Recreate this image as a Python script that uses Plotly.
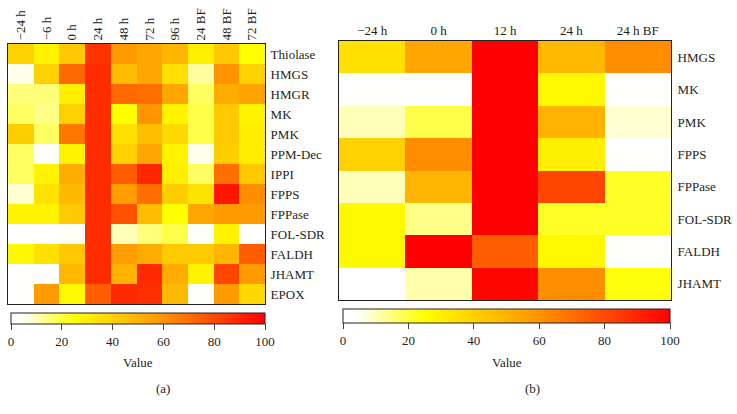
import plotly.graph_objects as go

# ---------------- data ----------------
times_a = ["−24 h", "−6 h", "0 h", "24 h", "48 h", "72 h", "96 h", "24 BF", "48 BF", "72 BF"]
genes_a = ["Thiolase", "HMGS", "HMGR", "MK", "PMK", "PPM-Dec", "IPPI", "FPPS",
           "FPPase", "FOL-SDR", "FALDH", "JHAMT", "EPOX"]
values_a = [
    [40, 29, 43, 86, 58, 54, 49, 30, 43, 25],
    [6, 40, 72, 88, 47, 54, 35, 12, 60, 40],
    [15, 15, 30, 88, 72, 70, 54, 17, 52, 55],
    [17, 14, 40, 88, 25, 60, 29, 19, 43, 29],
    [41, 17, 68, 88, 35, 46, 37, 19, 43, 31],
    [17, 3, 29, 88, 40, 54, 29, 6, 41, 31],
    [17, 29, 52, 88, 75, 90, 30, 17, 70, 43],
    [8, 34, 48, 88, 57, 70, 41, 34, 94, 62],
    [29, 29, 43, 88, 78, 47, 25, 54, 58, 58],
    [1, 1, 5, 88, 10, 15, 19, 3, 29, 1],
    [27, 35, 43, 88, 57, 52, 42, 42, 49, 75],
    [1, 1.5, 48, 88, 50, 89, 52, 29, 81, 58],
    [1, 58, 27, 75, 89, 87, 48, 3, 58, 37],
]

times_b = ["−24 h", "0 h", "12 h", "24 h", "24 h BF"]
genes_b = ["HMGS", "MK", "PMK", "FPPS", "FPPase", "FOL-SDR", "FALDH", "JHAMT"]
values_b = [
    [35, 54, 100, 48, 62],
    [1, 1, 100, 27, 1],
    [10, 19, 100, 50, 8],
    [40, 62, 100, 30, 1],
    [10, 49, 100, 81, 22],
    [27, 14, 100, 22, 22],
    [27, 100, 75, 27, 1],
    [0, 11, 98, 62, 24],
]

cbar_ticks = [0, 20, 40, 60, 80, 100]

# ---------------- styling ----------------
W, H = 737, 414
FONT = "Liberation Serif"
TXT = "#231F20"
heat = [[0.0, "#FFFFFF"], [0.05, "#FFFFF6"], [0.25, "#FFFF00"],
        [0.6, "#FF9400"], [1.0, "#FF0000"]]

def px(x):
    return x / W

def py(y):
    return 1 - y / H

fig = go.Figure()
fig.add_trace(go.Heatmap(z=values_a, x=times_a, y=genes_a, coloraxis="coloraxis",
                         xaxis="x", yaxis="y", hoverongaps=False))
fig.add_trace(go.Heatmap(z=values_b, x=times_b, y=genes_b, coloraxis="coloraxis2",
                         xaxis="x2", yaxis="y2", hoverongaps=False))

axis_common = dict(showgrid=False, zeroline=False, showline=True, linecolor="#222",
                   linewidth=1, mirror=True, ticks="", automargin=False,
                   tickfont=dict(family=FONT, size=13, color=TXT))

def cbar(x0, x1, ytop, thick):
    return dict(orientation="h", x=px((x0 + x1) / 2), xanchor="center",
                len=(x1 - x0) / W, lenmode="fraction", y=py(ytop), yanchor="top",
                thickness=thick, thicknessmode="pixels", xpad=0, ypad=0,
                outlinewidth=1, outlinecolor="#222",
                tickvals=cbar_ticks, ticks="outside", ticklen=6, tickcolor="#444",
                tickfont=dict(family=FONT, size=13, color=TXT))

fig.update_layout(
    width=W, height=H, margin=dict(l=0, r=0, t=0, b=0, autoexpand=False),
    paper_bgcolor="white", plot_bgcolor="white", showlegend=False,
    xaxis=dict(domain=[px(8), px(265)], side="top", tickangle=-90, anchor="y", **axis_common),
    yaxis=dict(domain=[py(304), py(44)], side="right", autorange="reversed", anchor="x",
               ticklabelstandoff=2, **axis_common),
    xaxis2=dict(domain=[px(339), px(671)], side="top", tickangle=0, anchor="y2", **axis_common),
    yaxis2=dict(domain=[py(300), py(41)], side="right", autorange="reversed", anchor="x2",
                ticklabelstandoff=3, **axis_common),
    coloraxis=dict(colorscale=heat, cmin=0, cmax=100, colorbar=cbar(11, 265, 313, 11)),
    coloraxis2=dict(colorscale=heat, cmin=0, cmax=100, colorbar=cbar(343, 670, 309, 14)),
)

for txt, x, y in [("Value", 138, 362), ("(a)", 163, 388), ("Value", 507, 362), ("(b)", 532, 388)]:
    fig.add_annotation(text=txt, x=px(x), y=py(y), xref="paper", yref="paper",
                       showarrow=False, xanchor="center", yanchor="middle",
                       font=dict(family=FONT, size=13, color=TXT))

fig.write_html("out.html", config={"displayModeBar": False},
               post_script="document.body.style.margin='0';document.body.style.overflow='hidden';")
